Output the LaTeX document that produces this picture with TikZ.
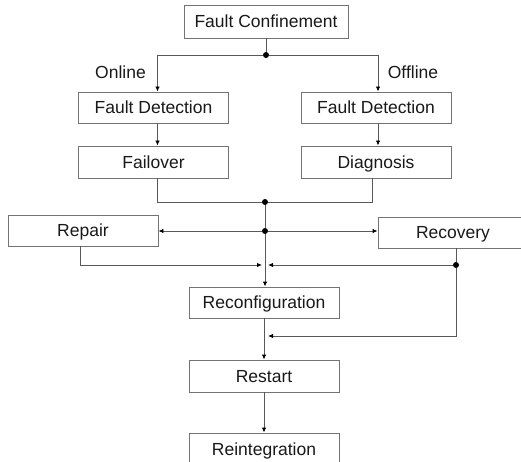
\documentclass[tikz,border=0pt]{standalone}
\usepackage{fontspec}
\setmainfont{Liberation Sans}
\usetikzlibrary{arrows.meta, positioning}

\tikzset{
  box/.style={draw=black!55, line width=0.9pt, fill=white, minimum width=150pt,
    minimum height=31pt, inner sep=0pt, text height=12.6pt, text depth=0pt,
    font=\fontsize{17.5}{20}\selectfont, text=black!90},
  link/.style={draw=black!65, line width=0.9pt},
  arr/.style={link, -{Latex[length=5pt,width=4.5pt,color=black]}},
  dot/.style={circle, fill=black, inner sep=0pt, minimum size=6pt},
  lbl/.style={font=\fontsize{17.5}{20}\selectfont, text=black!90, inner sep=0pt}
}

\begin{document}
\begin{tikzpicture}[x=1pt, y=-1pt]
    % frame
    \fill [white] (0,0) rectangle (521,462);
    \useasboundingbox (0,0) rectangle (521,462);
    \clip (0,0) rectangle (521,462);

    % boxes
    \node [box, minimum width=164pt, minimum height=33pt] (conf) at (266,21.5) {Fault Confinement};
    \node [box] (detOn) at (153.5,107.5) {Fault Detection};
    \node [box, minimum height=32pt] (failover) at (153.5,162) {Failover};
    \node [box] (detOff) at (376,107.5) {Fault Detection};
    \node [box, minimum height=32pt] (diag) at (376,162) {Diagnosis};
    \node [box] (repair) at (83,230.5) {Repair};
    \node [box] (recov) at (453,232.5) {Recovery};
    \node [box] (reconf) at (264,302.5) {Reconfiguration};
    \node [box, minimum height=32pt] (restart) at (264,376) {Restart};
    \node [box, minimum height=32pt] (reint) at (264,449) {Reintegration};

    % labels
    \node [lbl] (online) at (120.5,72) {Online};
    \node [lbl] (offline) at (413,72) {Offline};

    % junctions
    \node [dot] (split) at (266,55) {};
    \node [dot] (merge) at (265,202) {};
    \node [dot] (fork) at (265,231) {};
    \node [dot] (recj) at (456,265) {};
    \coordinate (join) at (265,265);
    \coordinate (back) at (265,336);

    % connectors
    \draw [link] (conf) -- (split);
    \draw [arr] (split) -| ([xshift=4pt]detOn.north);
    \draw [arr] (split) -| ([xshift=2pt]detOff.north);
    \draw [arr] ([xshift=4pt]detOn.south) -- ([xshift=4pt]failover.north);
    \draw [arr] ([xshift=2pt]detOff.south) -- ([xshift=2pt]diag.north);
    \draw [link] ([xshift=4pt]failover.south) |- (merge);
    \draw [link] ([xshift=-4pt]diag.south) |- (merge);
    \draw [link] (merge) -- (fork);
    \draw [arr] (fork) -- (fork -| repair.east);
    \draw [arr] (fork) -- (fork -| recov.west);
    \draw [arr] (fork) -- (fork |- reconf.north);
    \draw [arr] ([xshift=-3pt]repair.south) |- ([xshift=-3pt]join);
    \draw [link] (recov.south -| recj) -- (recj);
    \draw [arr] (recj) -- ([xshift=3pt]join);
    \draw [arr] (recj) |- ([xshift=3pt]back);
    \draw [arr] (reconf) -- (restart);
    \draw [arr] (restart) -- (reint);
\end{tikzpicture}
\end{document}
